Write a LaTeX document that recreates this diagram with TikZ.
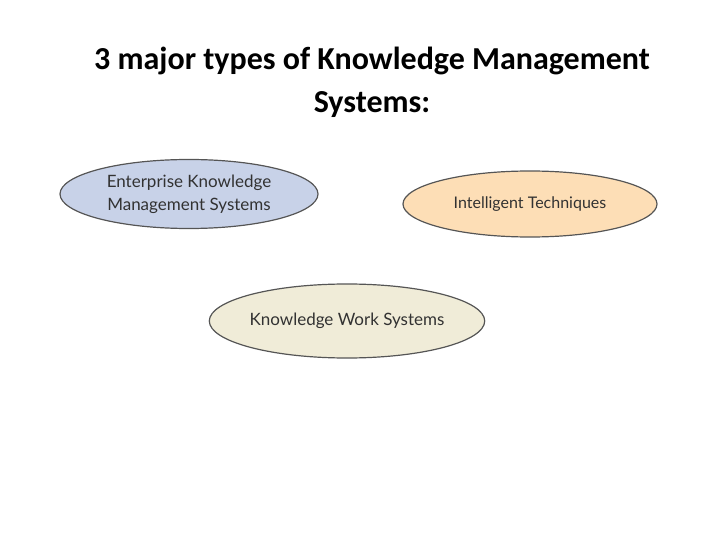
\documentclass[tikz,border=0pt]{standalone}
\usepackage{fontspec}
\setmainfont{Carlito}
\newfontfamily\ellfont{Lato}
\usetikzlibrary{shapes.geometric}
\definecolor{eblue}{RGB}{200,210,232}
\definecolor{epeach}{RGB}{253,222,182}
\definecolor{ebeige}{RGB}{240,236,216}
\definecolor{estroke}{RGB}{85,85,85}
\definecolor{etext}{RGB}{50,50,50}
\tikzset{
  kms/.style={ellipse, draw=estroke, line width=1.2pt, inner sep=0pt, text=etext,
    font=\ellfont\fontsize{17}{23}\selectfont, align=center},
  title/.style={font=\bfseries\fontsize{32}{43}\selectfont, align=center}
}
\begin{document}
\begin{tikzpicture}[x=1pt,y=-1pt]
\useasboundingbox (0,0) rectangle (720,540);
\node[title] (t) at (372,82) {3 major types of Knowledge Management\\Systems:};
\node[kms, fill=eblue, minimum width=258pt, minimum height=69pt] (e) at (189,194) {Enterprise Knowledge\\Management Systems};
\node[kms, fill=epeach, minimum width=254pt, minimum height=66pt] (i) at (530,204) {\fontsize{16}{20}\selectfont Intelligent Techniques};
\node[kms, fill=ebeige, minimum width=270pt, minimum height=74pt] (k) at (347,321) {Knowledge Work Systems};
\end{tikzpicture}
\end{document}
